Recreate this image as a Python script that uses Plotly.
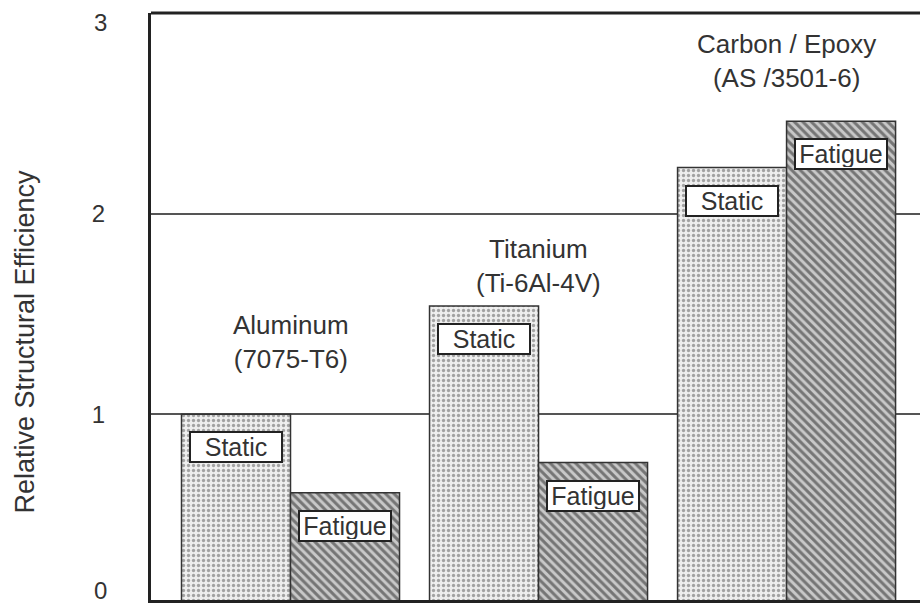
import plotly.graph_objects as go

# materials and values
materials = ['Aluminum<br>(7075-T6)', 'Titanium<br>(Ti-6Al-4V)', 'Carbon / Epoxy<br>(AS /3501-6)']
static = [1.0, 1.54, 2.23]
fatigue = [0.61, 0.76, 2.46]
x_pos = [0, 1, 2]
label_y = [1.36, 1.74, 2.76]
y_ticks = [1, 2]

FONT = 'Liberation Sans, Arial, sans-serif'
TXT = '#333333'

data = [
    go.Bar(x=x_pos, y=static, name='Static',
           marker=dict(color='white', line=dict(color='#333333', width=1.5),
                       pattern=dict(shape='.', fgcolor='#555555', bgcolor='#eeeeee',
                                    size=5, solidity=0.35))),
    go.Bar(x=x_pos, y=fatigue, name='Fatigue',
           marker=dict(color='white', line=dict(color='#333333', width=1.5),
                       pattern=dict(shape='\\', fgcolor='#222222', bgcolor='#c8c8c8',
                                    size=6, solidity=0.5))),
]

annotations = []
# Static / Fatigue boxes inside the bars
for i in range(len(x_pos)):
    for val, name, dx in [(static[i], 'Static', -0.22), (fatigue[i], 'Fatigue', 0.22)]:
        annotations.append(dict(x=x_pos[i] + dx, y=val, text=name, showarrow=False,
                                yanchor='top', yshift=-17,
                                font=dict(family=FONT, size=25, color=TXT),
                                bgcolor='white', bordercolor='#222222', borderwidth=2,
                                borderpad=1, width=88, height=26))
# material names above the groups
for i, m in enumerate(materials):
    annotations.append(dict(x=x_pos[i], y=label_y[i], text=m, showarrow=False,
                            font=dict(family=FONT, size=26, color=TXT)))
# axis title
annotations.append(dict(xref='paper', yref='paper', x=-0.164, y=0.44,
                        xanchor='center', yanchor='middle',
                        text='Relative Structural Efficiency', textangle=-90,
                        showarrow=False, font=dict(family=FONT, size=27, color=TXT)))
# end labels of the axis (top and the cropped bottom edge)
for txt, yp, shift in [('3', 1, -9), ('0', 0, 10)]:
    annotations.append(dict(xref='paper', yref='paper', x=-0.066, y=yp, yshift=shift,
                            xanchor='center', yanchor='middle', text=txt,
                            showarrow=False, font=dict(family=FONT, size=24, color=TXT)))

layout = go.Layout(
    width=920, height=603,
    margin=dict(l=151, r=0, t=13, b=3),
    paper_bgcolor='white', plot_bgcolor='white',
    barmode='group', bargap=0.121, bargroupgap=0,
    showlegend=False,
    xaxis=dict(range=[-0.5625, 2.538], showticklabels=False, showgrid=False,
               zeroline=False, showline=True, linecolor='#222222', linewidth=3,
               automargin=False),
    yaxis=dict(range=[0.075, 3], tickvals=y_ticks, showgrid=True, gridcolor='#555555',
               gridwidth=1.5, zeroline=False, showline=True, linecolor='#222222',
               linewidth=3, ticks='', ticklabelstandoff=38, automargin=False,
               tickfont=dict(family=FONT, size=24, color=TXT)),
    annotations=annotations,
    shapes=[dict(type='line', xref='paper', yref='paper', x0=0, x1=1, y0=1, y1=1,
                 line=dict(color='#222222', width=3))],
)

fig = go.Figure(data=data, layout=layout)
# drop the browser's default page margin so the figure fills the window
fig.write_html('out.html', config={'displayModeBar': False},
               post_script="document.body.style.margin='0';")
